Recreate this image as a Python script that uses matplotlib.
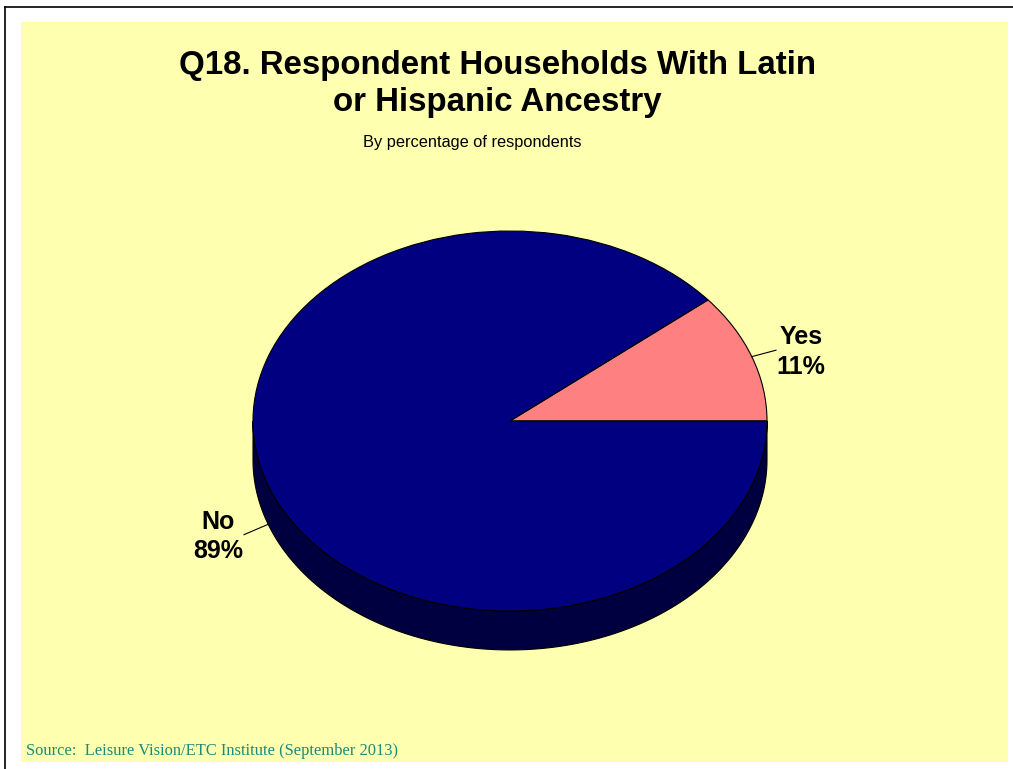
import matplotlib
matplotlib.use("Agg")
import matplotlib.pyplot as plt
import numpy as np
from matplotlib.patches import Polygon, Rectangle
from matplotlib.lines import Line2D

# survey answers, Q18
labels = ["Yes", "No"]
shares = [11, 89]
colors = ["#ff8080", "#000080"]

SIDE = "#000040"
PANEL = "#ffffb0"
TEAL = "#1a8a7a"
W, H = 1013, 769
DEPTH = 0.205  # pie thickness, in units of the vertical radius

fig = plt.figure(figsize=(W / 100, H / 100), dpi=100)
fig.patch.set_facecolor("white")

# yellow panel and the black frame lines
fig.patches.append(Rectangle((21 / W, 1 - 762 / H), 987 / W, 740 / H,
                             transform=fig.transFigure, fc=PANEL, ec="none", zorder=-5))
fig.lines.append(Line2D([5 / W, 1], [1 - 7 / H, 1 - 7 / H], transform=fig.transFigure,
                        color="black", lw=1.2, zorder=-4))
fig.lines.append(Line2D([5 / W, 5 / W], [0, 1 - 7 / H], transform=fig.transFigure,
                        color="black", lw=1.2, zorder=-4))

# axes box spans exactly the pie's ellipse (rx=257px, ry=190px, centre 510,421)
cx, cy, rx, ry = 510, 421, 257, 190
ax = fig.add_axes([(cx - rx) / W, (H - cy - ry) / H, 2 * rx / W, 2 * ry / H])
ax.set_zorder(1)

# front wall of the pie: lower half of the ellipse dropped by DEPTH
t = np.linspace(np.pi, 2 * np.pi, 200)
top = np.column_stack([np.cos(t), np.sin(t)])
bot = top[::-1] - [0, DEPTH]
ax.add_patch(Polygon(np.vstack([top, bot]), closed=True, fc=SIDE, ec="black",
                     lw=0.8, clip_on=False, zorder=1))

wedges, _ = ax.pie(shares, colors=colors, startangle=0, counterclock=True,
                   wedgeprops=dict(edgecolor="black", linewidth=0.8))
for w in wedges:
    w.set_clip_on(False)
    w.set_zorder(2)
ax.set_aspect("auto")
ax.set_xlim(-1, 1)
ax.set_ylim(-1, 1)
ax.axis("off")

# labels with short leader lines
cum = np.cumsum([0] + shares)
for lab, v, a0 in zip(labels, shares, cum[:-1]):
    mid = np.deg2rad((a0 + v / 2) / sum(shares) * 360)
    x0, y0 = np.cos(mid), np.sin(mid)
    if y0 < 0:
        y0 -= DEPTH
    x1, y1 = 1.1 * x0, 1.1 * y0
    ax.plot([x0, x1], [y0, y1], color="black", lw=0.8, clip_on=False, zorder=3)
    right = x0 > 0
    ax.text(x1 + (0.003 if right else -0.002), y1 - 0.01, f"{lab}\n{v}%",
            ha="left" if right else "right", va="center", multialignment="center",
            fontsize=18, fontweight="bold", family="Liberation Sans",
            linespacing=1.3, clip_on=False)

fig.text(497 / W, 1 - 84 / H, "Q18. Respondent Households With Latin\nor Hispanic Ancestry",
         ha="center", va="center", fontsize=23.8, fontweight="bold", family="Liberation Sans",
         linespacing=1.27)
fig.text(472 / W, 1 - 143 / H, "By percentage of respondents", ha="center", va="center",
         fontsize=11.8, family="Liberation Sans")
fig.text(26 / W, 1 - 751 / H, "Source:  Leisure Vision/ETC Institute (September 2013)",
         ha="left", va="center", fontsize=11.9, family="Liberation Serif", color=TEAL)

fig.savefig("out.png", dpi=100)
